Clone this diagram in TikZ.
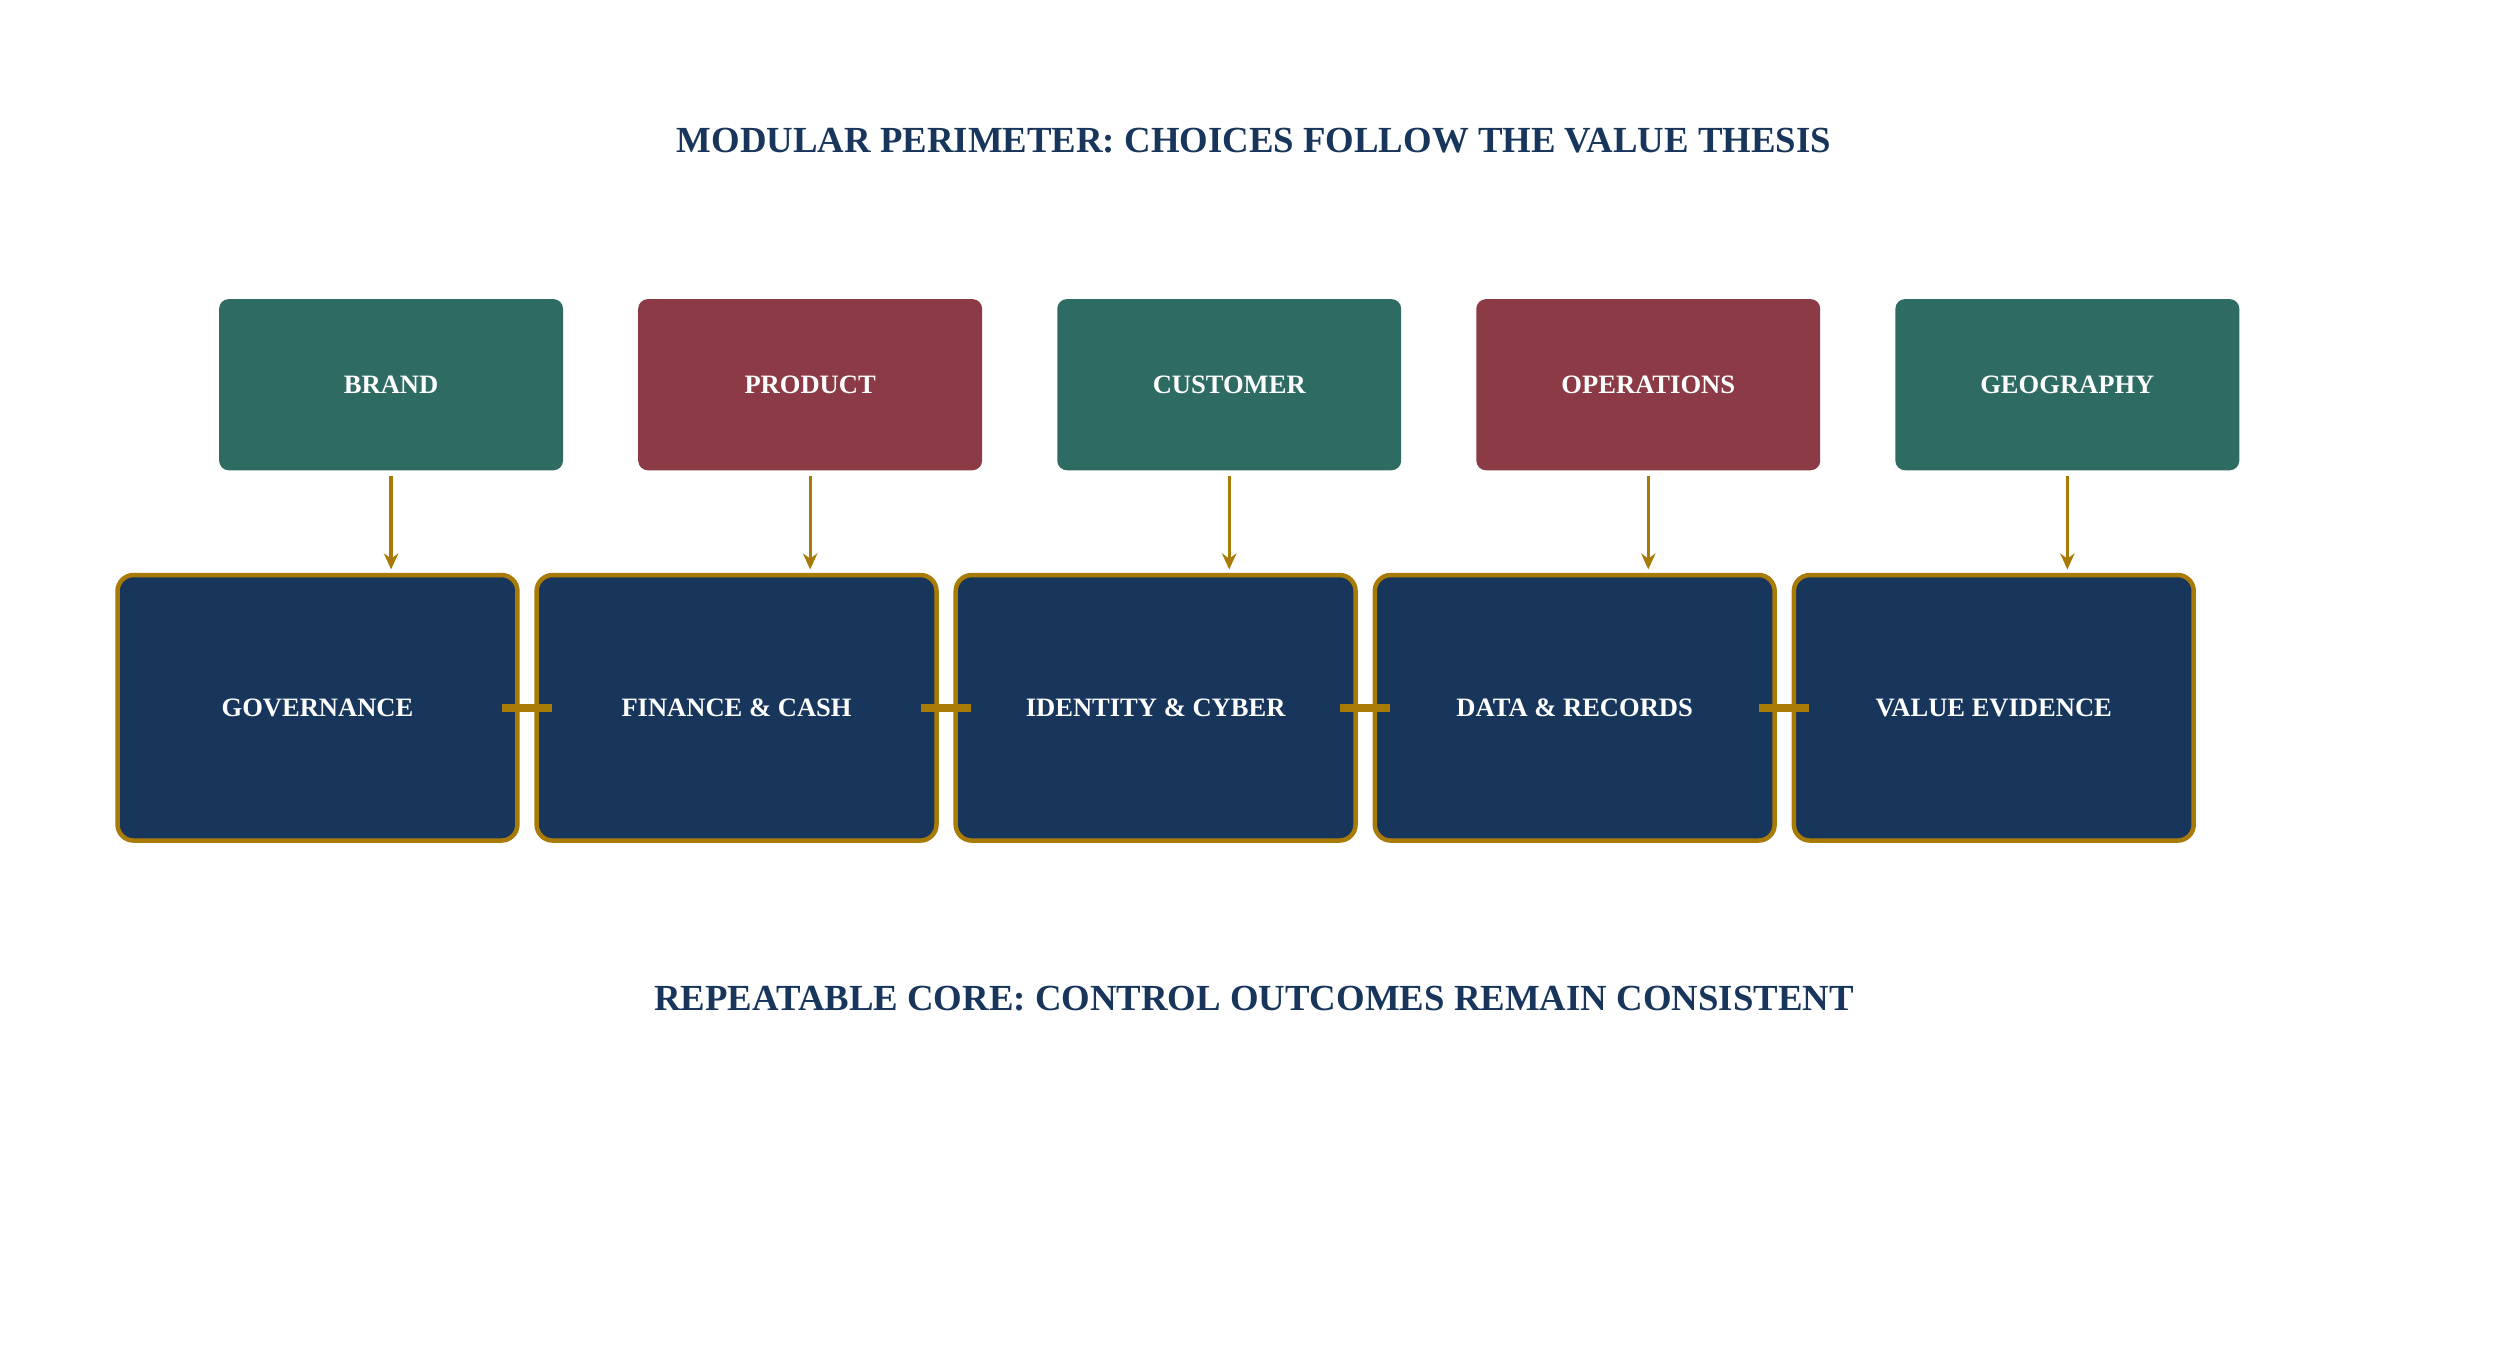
\documentclass[tikz,border=0pt]{standalone}
\usepackage{fontspec}
\setmainfont{Liberation Serif}
\usetikzlibrary{arrows.meta}
\definecolor{green}{HTML}{2E6B62}
\definecolor{wine}{HTML}{8B3A46}
\definecolor{navy}{HTML}{18365C}
\definecolor{gold}{HTML}{A87A06}
\begin{document}
\begin{tikzpicture}[x=0.5pt,y=-0.5pt,
  top/.style={rounded corners=3pt,minimum width=107.5pt,minimum height=53.5pt,text=white,font=\bfseries\fontsize{8.3}{10}\selectfont},
  core/.style={rounded corners=5pt,fill=navy,draw=gold,line width=1.4pt,minimum width=125pt,minimum height=83pt,text=white,font=\bfseries\fontsize{8.3}{10}\selectfont},
  arr/.style={draw=gold,line width=1pt,-{Stealth[length=5pt,width=4.5pt]}},
  link/.style={draw=gold,line width=2.5pt,shorten <=-5.5pt,shorten >=-5.5pt},
  ttl/.style={text=navy,font=\bfseries\fontsize{11.5}{14}\selectfont}]
\useasboundingbox (0,0) rectangle (1568,853);
\node[ttl] (t1) at (784,88) {MODULAR PERIMETER: CHOICES FOLLOW THE VALUE THESIS};
\node[ttl] (t2) at (784,624) {REPEATABLE CORE: CONTROL OUTCOMES REMAIN CONSISTENT};
\foreach \n/\lab/\c [count=\i from 0] in {a/BRAND/green,b/PRODUCT/wine,c/CUSTOMER/green,d/OPERATIONS/wine,e/GEOGRAPHY/green}{
  \node[top,fill=\c] (\n) at (244.5+262*\i,240.5) {\lab};
}
\foreach \n/\lab [count=\i from 0] in {A/GOVERNANCE,B/FINANCE \& CASH,C/IDENTITY \& CYBER,D/DATA \& RECORDS,E/VALUE EVIDENCE}{
  \node[core] (\n) at (198.5+262*\i,442.5) {\lab};
  \coordinate (\n t) at (244.5+262*\i,356);
}
\foreach \n in {a,b,c,d,e}{}
\draw[arr] ([yshift=-1.5pt]a.south) -- (At);
\draw[arr] ([yshift=-1.5pt]b.south) -- (Bt);
\draw[arr] ([yshift=-1.5pt]c.south) -- (Ct);
\draw[arr] ([yshift=-1.5pt]d.south) -- (Dt);
\draw[arr] ([yshift=-1.5pt]e.south) -- (Et);
\draw[link] (A.east) -- (B.west);
\draw[link] (B.east) -- (C.west);
\draw[link] (C.east) -- (D.west);
\draw[link] (D.east) -- (E.west);
\end{tikzpicture}
\end{document}
